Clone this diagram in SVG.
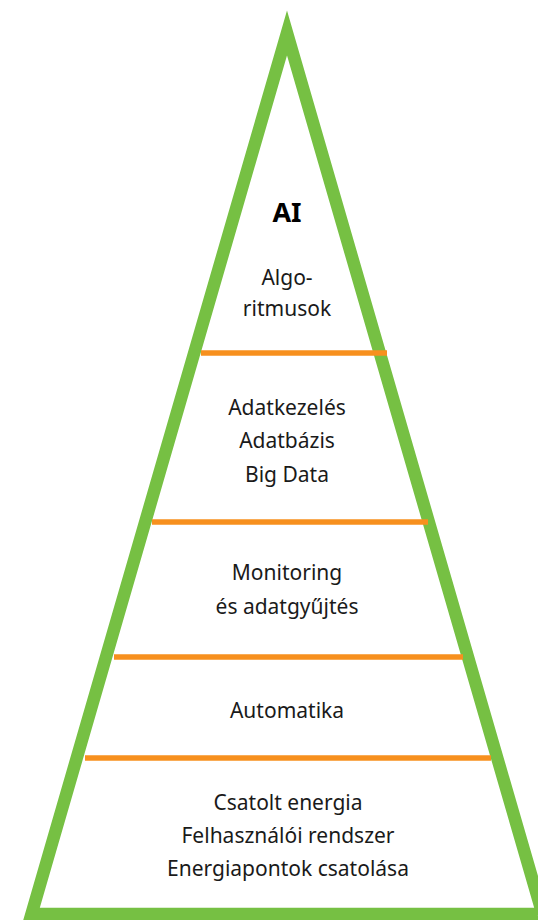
<svg xmlns="http://www.w3.org/2000/svg" width="538" height="920" viewBox="0 0 538 920">
<style>
.t{font-family:"Noto Sans","Open Sans",sans-serif;font-size:21px;fill:#1a1a1a;text-anchor:middle}
.b{font-family:"Noto Sans","Open Sans",sans-serif;font-size:27px;font-weight:bold;fill:#000;text-anchor:middle}
.sep{stroke:#f7901e;stroke-width:5.5;fill:none}
.frame{stroke:#76c043;stroke-width:12.5;fill:none;stroke-linejoin:miter;stroke-miterlimit:10}
</style>
<rect width="538" height="920" fill="#fff"/>
<g id="pyramid">
<polygon class="frame" points="287,33 31.5,914 542.5,914"/>
</g>
<g id="connectors">
<line class="sep" x1="201" y1="353" x2="387" y2="353"/>
<line class="sep" x1="152" y1="522" x2="428" y2="522"/>
<line class="sep" x1="114" y1="657" x2="463" y2="657"/>
<line class="sep" x1="85" y1="758" x2="491" y2="758"/>
</g>
<g id="level-ai">
<text class="b" x="287" y="222">AI</text>
<text class="t" x="287" y="285">Algo-</text>
<text class="t" x="287" y="316">ritmusok</text>
</g>
<g id="level-data">
<text class="t" x="287" y="415">Adatkezelés</text>
<text class="t" x="287" y="448">Adatbázis</text>
<text class="t" x="287" y="482">Big Data</text>
</g>
<g id="level-monitoring">
<text class="t" x="287" y="580">Monitoring</text>
<text class="t" x="287" y="614">és adatgyűjtés</text>
</g>
<g id="level-automation">
<text class="t" x="287" y="718">Automatika</text>
</g>
<g id="level-energy">
<text class="t" x="288" y="810">Csatolt energia</text>
<text class="t" x="288" y="843">Felhasználói rendszer</text>
<text class="t" x="288" y="876">Energiapontok csatolása</text>
</g>
</svg>
